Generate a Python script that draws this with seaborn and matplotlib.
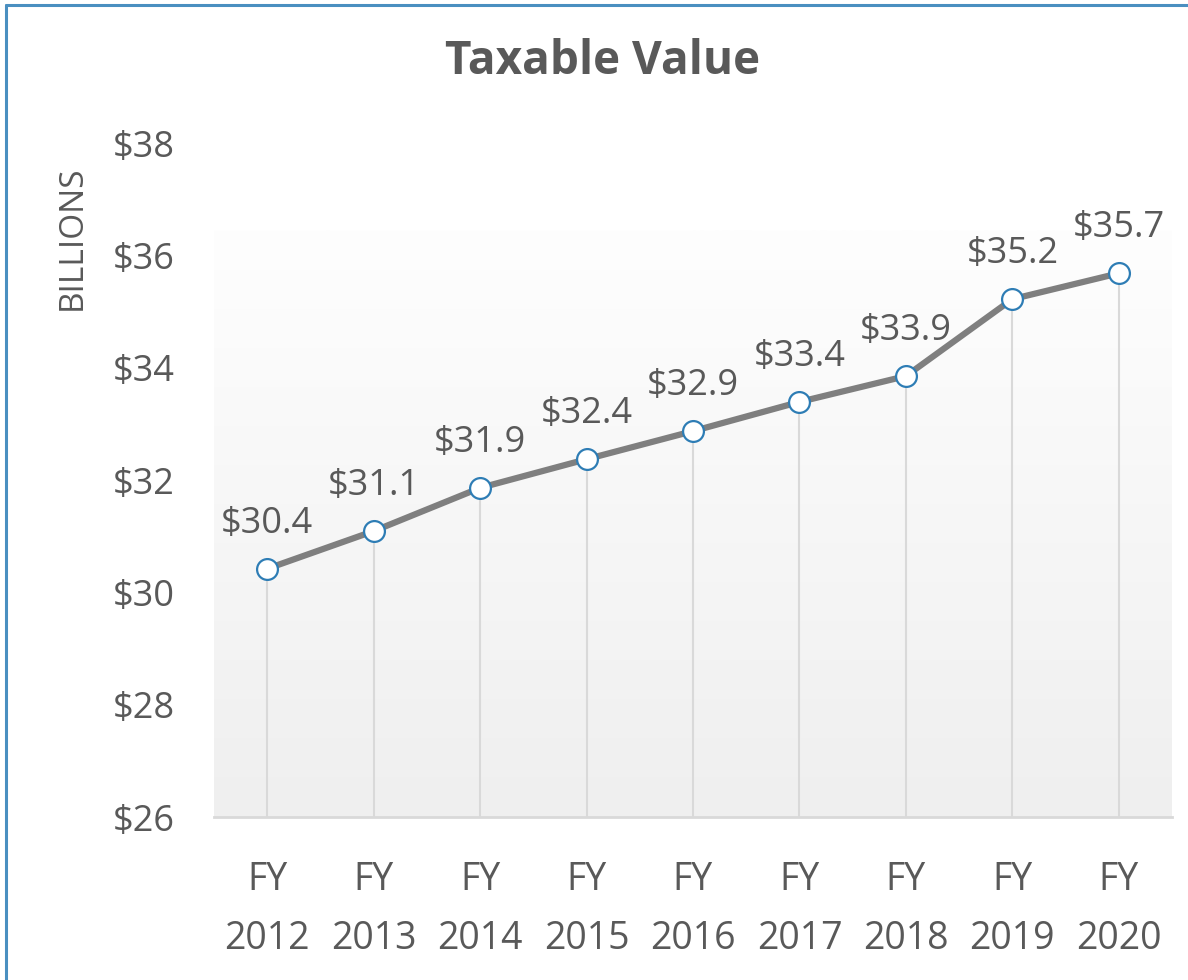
import numpy as np
import pandas as pd
import matplotlib
matplotlib.use("Agg")
import matplotlib.pyplot as plt
from matplotlib.lines import Line2D
from matplotlib.colors import LinearSegmentedColormap
import seaborn as sns

years = ["2012", "2013", "2014", "2015", "2016", "2017", "2018", "2019", "2020"]
values = [30.42, 31.09, 31.86, 32.37, 32.87, 33.39, 33.85, 35.22, 35.68]
yticks = [26, 28, 30, 32, 34, 36, 38]

df = pd.DataFrame({"pos": range(len(years)), "value": values})

sns.set_theme(style="white")
plt.rcParams["font.family"] = ["Open Sans", "DejaVu Sans"]
txt = "#595959"

fig = plt.figure(figsize=(11.88, 9.8), dpi=100)
ax = fig.add_axes([214 / 1188, 1 - 817 / 980, 958 / 1188, 674 / 980])

# soft vertical gradient behind the plot area (white on top, light grey below)
grad = np.linspace(0, 1, 256).reshape(-1, 1)
cmap = LinearSegmentedColormap.from_list("g", ["#fefefe", "#efefef"])
ax.imshow(grad, cmap=cmap, aspect="auto", extent=[-0.5, 8.5, 26, 36.45],
          origin="upper", zorder=0)

ax.vlines(df["pos"], 26, df["value"], color="#d9d9d9", lw=1.5, zorder=1)
sns.lineplot(data=df, x="pos", y="value", ax=ax, color="#7f7f7f", lw=4.5,
             marker="o", markersize=15, markerfacecolor="white",
             markeredgecolor="#2e7db5", markeredgewidth=1.6, zorder=3)

for x, v in zip(df["pos"], df["value"]):
    ax.annotate(f"${v:.1f}", (x, v), xytext=(0, 26), textcoords="offset points",
                ha="center", va="baseline", fontsize=26, color=txt)

ax.set_xlim(-0.5, 8.5)
ax.set_ylim(26, 38)
ax.set_yticks(yticks)
ax.set_yticklabels([f"${t}" for t in yticks])
ax.set_xticks(df["pos"])
ax.set_xticklabels([f"FY\n{y}" for y in years], linespacing=1.7)
ax.tick_params(axis="y", length=0, pad=28, labelsize=26, labelcolor=txt)
ax.tick_params(axis="x", length=0, pad=32, labelsize=27, labelcolor=txt)
ax.set_xlabel("")
ax.set_ylabel("")
for s in ["top", "right", "left"]:
    ax.spines[s].set_visible(False)
ax.spines["bottom"].set_color("#d9d9d9")
ax.spines["bottom"].set_linewidth(2)

fig.text(603 / 1188, 1 - 62 / 980, "Taxable Value", ha="center", va="center",
         fontsize=33, fontweight="bold", color=txt)
fig.text(72 / 1188, 1 - 238 / 980, "BILLIONS", rotation=90, ha="center",
         va="center", fontsize=24, color=txt)

# chart frame (left and top edges visible)
fig.add_artist(Line2D([6 / 1188, 6 / 1188], [0, 1 - 5 / 980],
                      transform=fig.transFigure, color="#4a8fc0", lw=2.2))
fig.add_artist(Line2D([6 / 1188, 1], [1 - 5 / 980, 1 - 5 / 980],
                      transform=fig.transFigure, color="#4a8fc0", lw=2.2))

fig.savefig("out.png", dpi=100)
